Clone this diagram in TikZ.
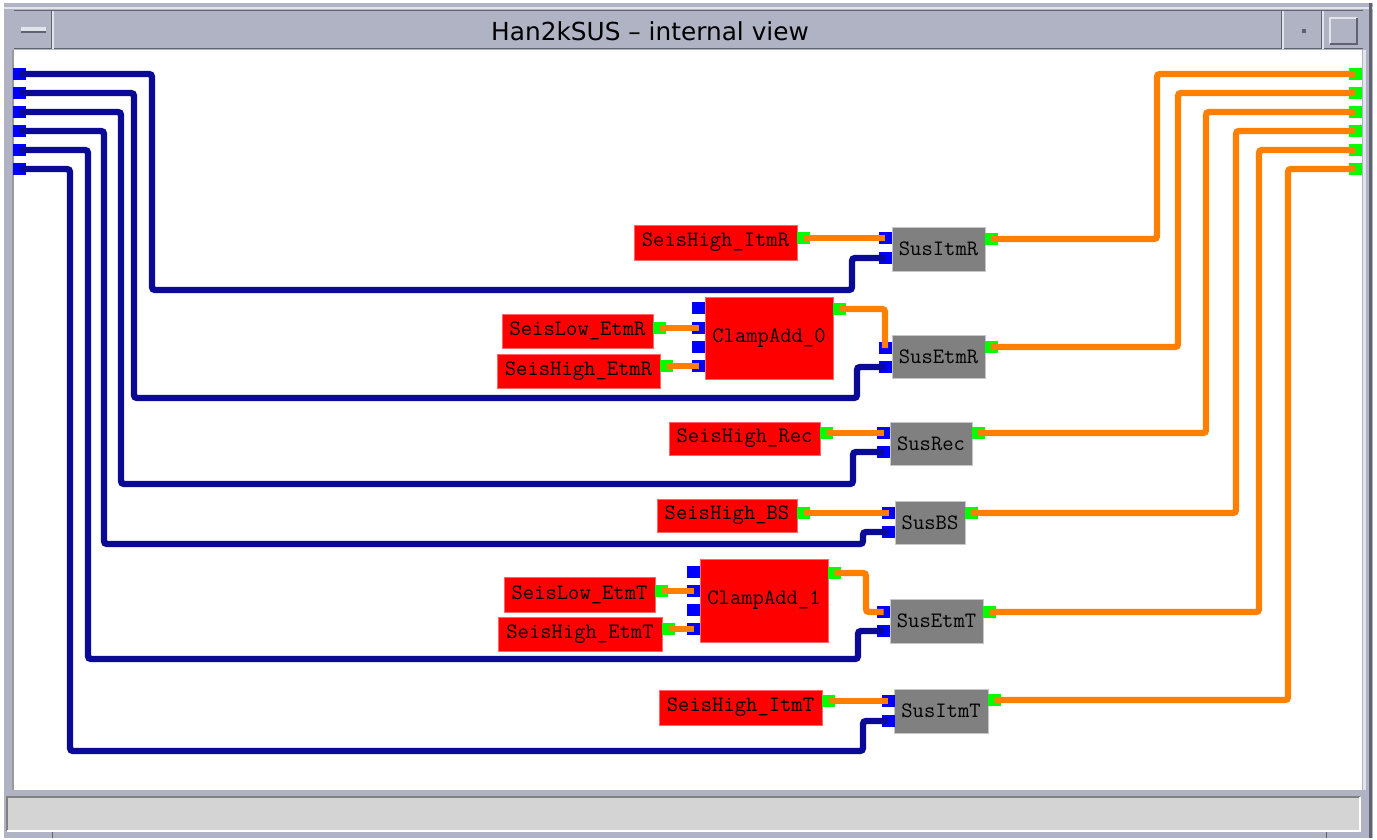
\documentclass[tikz,border=0pt]{standalone}
\usepackage{fontspec}
\setmainfont{DejaVu Sans}
\definecolor{winframe}{RGB}{176,179,196}
\definecolor{winlight}{RGB}{226,228,236}
\definecolor{windark}{RGB}{96,98,112}
\definecolor{statusgray}{RGB}{212,212,212}
\definecolor{wirenavy}{RGB}{10,10,150}
\definecolor{wireorange}{RGB}{255,128,0}
\definecolor{portblue}{RGB}{0,0,255}
\definecolor{portgreen}{RGB}{0,255,0}
\definecolor{blockred}{RGB}{255,0,0}
\definecolor{blockgray}{RGB}{128,128,128}

\begin{document}
\begin{tikzpicture}[x=0.5pt,y=-0.5pt,
  seis/.style={fill=blockred,draw=red!60!white,line width=0.4pt,inner sep=0pt,
    font=\ttfamily\fontsize{11}{13}\selectfont},
  sus/.style={fill=blockgray,draw=gray!45,line width=0.5pt,inner sep=0pt,
    font=\ttfamily\fontsize{11}{13}\selectfont},
  bport/.style={fill=portblue,minimum width=6.5pt,minimum height=5.8pt,inner sep=0pt},
  gport/.style={fill=portgreen,minimum width=6.5pt,minimum height=5.8pt,inner sep=0pt},
  bwire/.style={draw=wirenavy,line width=3.2pt,rounded corners=1.5pt},
  owire/.style={draw=wireorange,line width=3.2pt,rounded corners=1.5pt}]
  \useasboundingbox (0,0) rectangle (1377,840);
  % Window frame
  \fill[white] (0,0) rectangle (1377,840);
  \fill[winframe] (4,3) rectangle (1373,838);
  \draw[winlight,line width=1pt] (4,8) -- (1373,8);
  \draw[windark,line width=0.6pt] (14,10.5) -- (1363,10.5);
  \draw[windark,line width=0.6pt] (14,48.5) -- (1363,48.5);
  \draw[windark,line width=1.5pt] (1370,3) -- (1370,838);
  \draw[winlight,line width=0.8pt] (53,11) -- (53,49);
  \draw[winlight,line width=0.8pt] (1283,11) -- (1283,49);
  \draw[winlight,line width=0.8pt] (1323,11) -- (1323,49);
  \draw[windark,line width=0.5pt] (51,11) -- (51,49);
  \draw[windark,line width=0.5pt] (1281,11) -- (1281,49);
  \draw[windark,line width=0.5pt] (1321,11) -- (1321,49);
  % Buttons
  \draw[winlight,line width=2pt] (21,29) -- (46,29);
  \draw[windark,line width=0.6pt] (21,32) -- (46,32);
  \fill[windark] (1302,29) rectangle (1306,33);
  \draw[winlight,line width=1pt] (1330,44) -- (1330,18) -- (1357,18);
  \draw[windark,line width=1pt] (1330,44) -- (1357,44) -- (1357,18);
  % Title
  \node[font=\fontsize{12.4}{14}\selectfont,inner sep=0pt] (title) at (650,31) {Han2kSUS \textendash{} internal view};
  % Canvas
  \fill[white] (14,50) rectangle (1362,790);
  \draw[gray!80,line width=0.8pt] (13,50) -- (13,790);
  \draw[winlight,line width=1.5pt] (1364,50) -- (1364,790);
  % Status bar
  \fill[statusgray] (7,797) rectangle (1360,831);
  \draw[gray,line width=0.8pt] (7,831) -- (7,797) -- (1360,797);
  \draw[white,line width=0.8pt] (7,831) -- (1360,831) -- (1360,797);
  \draw[windark,line width=0.5pt] (52,832) -- (52,838);
  \draw[windark,line width=0.5pt] (1326,832) -- (1326,838);

  % Blocks
  \node[seis,minimum width=81.5pt,minimum height=17.5pt] (seisItmR) at (715.5,242.5) {SeisHigh\_ItmR};
  \node[sus,minimum width=46.5pt,minimum height=22pt] (susItmR) at (938.5,249) {SusItmR};
  \node[seis,minimum width=75.5pt,minimum height=17pt] (seisLowEtmR) at (577.5,331) {SeisLow\_EtmR};
  \node[seis,minimum width=81.5pt,minimum height=17pt] (seisHighEtmR) at (578.5,371) {SeisHigh\_EtmR};
  \node[seis,minimum width=64pt,minimum height=41pt] (clamp0) at (769,338) {ClampAdd\_0};
  \node[sus,minimum width=46.5pt,minimum height=21.5pt] (susEtmR) at (938.5,356.5) {SusEtmR};
  \node[seis,minimum width=75.5pt,minimum height=16.5pt] (seisRec) at (744.5,438.5) {SeisHigh\_Rec};
  \node[sus,minimum width=41pt,minimum height=21.5pt] (susRec) at (931,443.5) {SusRec};
  \node[seis,minimum width=70pt,minimum height=16.5pt] (seisBS) at (727,515.5) {SeisHigh\_BS};
  \node[sus,minimum width=35pt,minimum height=21.5pt] (susBS) at (930,522.5) {SusBS};
  \node[seis,minimum width=64pt,minimum height=41.5pt] (clamp1) at (764,600.5) {ClampAdd\_1};
  \node[seis,minimum width=75.5pt,minimum height=17.5pt] (seisLowEtmT) at (579.5,594.5) {SeisLow\_EtmT};
  \node[seis,minimum width=82pt,minimum height=17pt] (seisHighEtmT) at (580,634) {SeisHigh\_EtmT};
  \node[sus,minimum width=46.5pt,minimum height=22pt] (susEtmT) at (936.5,621) {SusEtmT};
  \node[seis,minimum width=81.5pt,minimum height=17.5pt] (seisItmT) at (740.5,707.5) {SeisHigh\_ItmT};
  \node[sus,minimum width=47pt,minimum height=22pt] (susItmT) at (941,711) {SusItmT};

  % Window ports
  \node[bport] (in1) at (19.5,74) {};
  \node[bport] (in2) at (19.5,93) {};
  \node[bport] (in3) at (19.5,112) {};
  \node[bport] (in4) at (19.5,131) {};
  \node[bport] (in5) at (19.5,150) {};
  \node[bport] (in6) at (19.5,169) {};
  \node[gport] (out1) at (1355,74) {};
  \node[gport] (out2) at (1355,93) {};
  \node[gport] (out3) at (1355,112) {};
  \node[gport] (out4) at (1355,131) {};
  \node[gport] (out5) at (1355,150) {};
  \node[gport] (out6) at (1355,169) {};

  % Block ports
  \node[gport] (pSeisItmR) at (803.5,238) {};
  \node[bport] (pSusItmR1) at (885,238) {};
  \node[bport] (pSusItmR2) at (885,258) {};
  \node[gport] (pSusItmRo) at (991,239) {};
  \node[gport] (pSeisLowEtmR) at (659.5,328) {};
  \node[gport] (pSeisHighEtmR) at (666.5,366) {};
  \node[bport] (pClamp0a) at (698.5,308) {};
  \node[bport] (pClamp0b) at (698.5,328) {};
  \node[bport] (pClamp0c) at (698.5,347) {};
  \node[bport] (pClamp0d) at (698.5,366) {};
  \node[gport] (pClamp0o) at (839.5,309) {};
  \node[bport] (pSusEtmR1) at (885,348) {};
  \node[bport] (pSusEtmR2) at (885,367) {};
  \node[gport] (pSusEtmRo) at (991,347) {};
  \node[gport] (pSeisRec) at (826.5,433) {};
  \node[bport] (pSusRec1) at (883.5,433) {};
  \node[bport] (pSusRec2) at (883.5,452) {};
  \node[gport] (pSusReco) at (978,433) {};
  \node[gport] (pSeisBS) at (803.5,513) {};
  \node[bport] (pSusBS1) at (888.5,513) {};
  \node[bport] (pSusBS2) at (888.5,532) {};
  \node[gport] (pSusBSo) at (971,513) {};
  \node[bport] (pClamp1a) at (693.5,572) {};
  \node[bport] (pClamp1b) at (693.5,591) {};
  \node[bport] (pClamp1c) at (693.5,610) {};
  \node[bport] (pClamp1d) at (693.5,629) {};
  \node[gport] (pClamp1o) at (834.5,573) {};
  \node[gport] (pSeisLowEtmT) at (661.5,591) {};
  \node[gport] (pSeisHighEtmT) at (668.5,629) {};
  \node[bport] (pSusEtmT1) at (883.5,612) {};
  \node[bport] (pSusEtmT2) at (883.5,631) {};
  \node[gport] (pSusEtmTo) at (989.5,612) {};
  \node[gport] (pSeisItmT) at (828.5,701) {};
  \node[bport] (pSusItmT1) at (888,701) {};
  \node[bport] (pSusItmT2) at (888,721) {};
  \node[gport] (pSusItmTo) at (994.5,700) {};

  % Inputs from the left
  \draw[bwire] (in1.center) -| (152,290) -| (852,258) -- (pSusItmR2.center);
  \draw[bwire] (in2.center) -| (134,398) -| (857,367) -- (pSusEtmR2.center);
  \draw[bwire] (in3.center) -| (121,484) -| (853,452) -- (pSusRec2.center);
  \draw[bwire] (in4.center) -| (104,544) -| (863,532) -- (pSusBS2.center);
  \draw[bwire] (in5.center) -| (88,659) -| (858,631) -- (pSusEtmT2.center);
  \draw[bwire] (in6.center) -| (70,751) -| (863,721) -- (pSusItmT2.center);
  % Seismic signals
  \draw[owire] (pSeisItmR.center) -- (pSusItmR1.center);
  \draw[owire] (pSeisLowEtmR.center) -- (pClamp0b.center);
  \draw[owire] (pSeisHighEtmR.center) -- (pClamp0d.center);
  \draw[owire] (pClamp0o.center) -| (pSusEtmR1.center);
  \draw[owire] (pSeisRec.center) -- (pSusRec1.center);
  \draw[owire] (pSeisBS.center) -- (pSusBS1.center);
  \draw[owire] (pSeisLowEtmT.center) -- (pClamp1b.center);
  \draw[owire] (pSeisHighEtmT.center) -- (pClamp1d.center);
  \draw[owire] (pClamp1o.center) -| (866,612) -- (pSusEtmT1.center);
  \draw[owire] (pSeisItmT.center) -- (pSusItmT1.center);
  % Outputs to the right
  \draw[owire] (pSusItmRo.center) -| (1157,74) -- (out1.center);
  \draw[owire] (pSusEtmRo.center) -| (1178,93) -- (out2.center);
  \draw[owire] (pSusReco.center) -| (1206,112) -- (out3.center);
  \draw[owire] (pSusBSo.center) -| (1236,131) -- (out4.center);
  \draw[owire] (pSusEtmTo.center) -| (1259,150) -- (out5.center);
  \draw[owire] (pSusItmTo.center) -| (1288,169) -- (out6.center);
\end{tikzpicture}
\end{document}
